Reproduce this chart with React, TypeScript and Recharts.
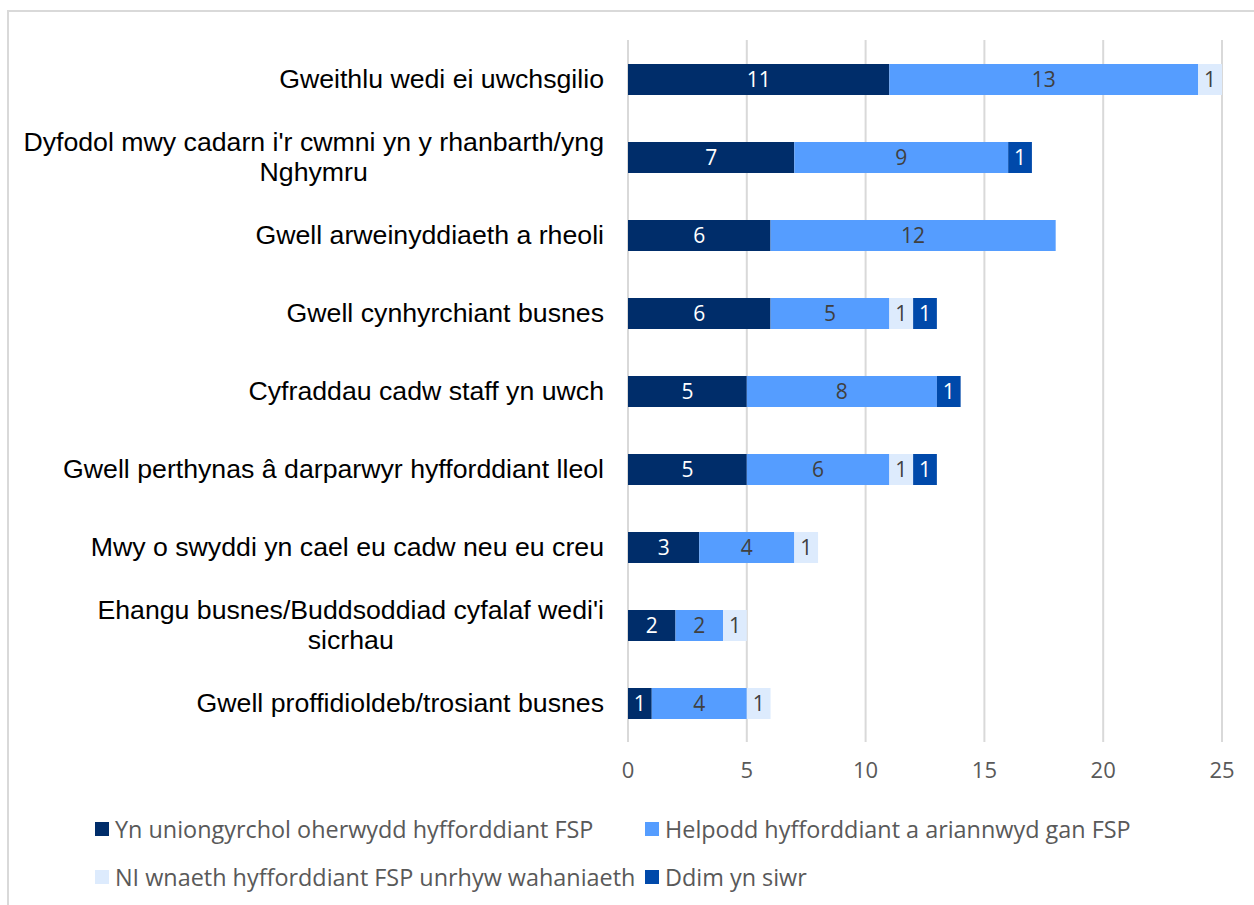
import { BarChart, Bar, XAxis, YAxis, CartesianGrid, LabelList, Legend } from 'recharts'

const categories = [
  'Gweithlu wedi ei uwchsgilio',
  "Dyfodol mwy cadarn i'r cwmni yn y rhanbarth/yng|Nghymru",
  'Gwell arweinyddiaeth a rheoli',
  'Gwell cynhyrchiant busnes',
  'Cyfraddau cadw staff yn uwch',
  'Gwell perthynas â darparwyr hyfforddiant lleol',
  'Mwy o swyddi yn cael eu cadw neu eu creu',
  "Ehangu busnes/Buddsoddiad cyfalaf wedi'i|sicrhau",
  'Gwell proffidioldeb/trosiant busnes',
]

const direct = [11, 7, 6, 6, 5, 5, 3, 2, 1]
const helped = [13, 9, 12, 5, 8, 6, 4, 2, 4]
const noDiff = [1, 0, 0, 1, 0, 1, 1, 1, 1]
const notSure = [0, 1, 0, 1, 1, 1, 0, 0, 0]

const xTicks = [0, 5, 10, 15, 20, 25]

const series = [
  { key: 'direct', name: 'Yn uniongyrchol oherwydd hyfforddiant FSP', color: '#002D6A', text: '#ffffff' },
  { key: 'helped', name: 'Helpodd hyfforddiant a ariannwyd gan FSP', color: '#559DFF', text: '#404040' },
  { key: 'noDiff', name: 'NI wnaeth hyfforddiant FSP unrhyw wahaniaeth', color: '#DDEBFD', text: '#404040' },
  { key: 'notSure', name: 'Ddim yn siwr', color: '#0049AA', text: '#ffffff' },
]

const data = categories.map((c, i) => ({
  cat: c,
  direct: direct[i],
  helped: helped[i],
  noDiff: noDiff[i],
  notSure: notSure[i],
}))

const labelFont = "'Liberation Sans', Arial, sans-serif"
const smallFont = "'Open Sans', 'Noto Sans', sans-serif"
const catSize = 26.7

let canvas: HTMLCanvasElement | null = null
const measure = (s: string) => {
  if (!canvas) canvas = document.createElement('canvas')
  const ctx = canvas.getContext('2d')!
  ctx.font = `${catSize}px ${labelFont}`
  return ctx.measureText(s).width
}

const CatTick = (props: any) => {
  const { y, payload } = props
  const lines = String(payload.value).split('|')
  const right = 604
  if (lines.length === 1) {
    return (
      <text x={right} y={y} dy="0.35em" textAnchor="end" fontSize={catSize} fontFamily={labelFont} fill="#000">
        {lines[0]}
      </text>
    )
  }
  const mid = right - measure(lines[0]) / 2
  return (
    <text x={mid} y={y - 15} textAnchor="middle" fontSize={catSize} fontFamily={labelFont} fill="#000">
      {lines.map((l, i) => (
        <tspan key={i} x={mid} dy={i === 0 ? '0.35em' : 30}>
          {l}
        </tspan>
      ))}
    </text>
  )
}

const LegendBox = () => {
  // marker left edge, row centre
  const pos = [
    [95, 829],
    [645, 829],
    [95, 877],
    [645, 877],
  ]
  return (
    <div style={{ position: 'relative', width: 1254, height: 0 }}>
      {series.map((s, i) => (
        <div
          key={s.key}
          style={{
            position: 'absolute',
            left: pos[i][0],
            top: pos[i][1] - 812 - 15,
            display: 'flex',
            alignItems: 'center',
            height: 30,
            whiteSpace: 'nowrap',
          }}
        >
          <span style={{ display: 'inline-block', width: 14, height: 14, background: s.color, marginRight: 6 }} />
          <span style={{ fontFamily: smallFont, fontSize: 23.4, color: '#595959' }}>{s.name}</span>
        </div>
      ))}
    </div>
  )
}

export default function App() {
  return (
    <div style={{ position: 'absolute', left: 0, top: 0, width: 1254, height: 905, background: '#fff', overflow: 'hidden' }}>
      <div style={{ position: 'absolute', left: 7, top: 10, width: 1260, height: 910, borderLeft: '2px solid #d9d9d9', borderTop: '2px solid #d9d9d9' }} />
      <BarChart
        width={1254}
        height={905}
        data={data}
        layout="vertical"
        margin={{ top: 40, right: 32, left: 0, bottom: 103 }}
        barSize={31}
      >
        <CartesianGrid horizontal={false} stroke="#d9d9d9" strokeWidth={2} />
        <XAxis
          type="number"
          domain={[0, 25]}
          ticks={xTicks}
          axisLine={false}
          tickLine={false}
          height={60}
          tickMargin={14}
          tick={{ fill: '#595959', fontSize: 22, fontFamily: smallFont }}
        />
        <YAxis type="category" dataKey="cat" width={628} axisLine={false} tickLine={false} tick={<CatTick />} interval={0} />
        {series.map((s) => (
          <Bar key={s.key} dataKey={s.key} name={s.name} stackId="a" fill={s.color} isAnimationActive={false}>
            <LabelList
              dataKey={s.key}
              position="center"
              fill={s.text}
              fontSize={21}
              fontFamily={smallFont}
              formatter={(v: any) => (v ? v : '')}
            />
          </Bar>
        ))}
        <Legend
          layout="vertical"
          align="center"
          verticalAlign="bottom"
          content={<LegendBox />}
          wrapperStyle={{ left: 0, top: 812, width: 1254 }}
        />
      </BarChart>
    </div>
  )
}
